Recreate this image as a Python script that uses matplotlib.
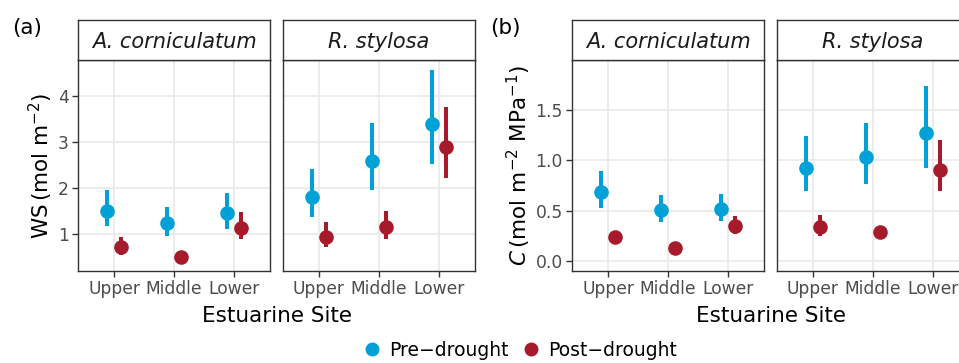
import matplotlib
matplotlib.use('Agg')
import matplotlib.pyplot as plt
from matplotlib.lines import Line2D

W, H = 959, 363

sites = ['Upper', 'Middle', 'Lower']
species = ['A. corniculatum', 'R. stylosa']
periods = ['Pre\u2212drought', 'Post\u2212drought']
colors = ['#00A1D6', '#A61A2B']

# WS (mol m-2): mean, lower and upper bounds per site
ws_acor_pre = [1.51, 1.24, 1.46]
ws_acor_pre_lo = [1.17, 0.96, 1.12]
ws_acor_pre_hi = [1.96, 1.60, 1.89]
ws_acor_post = [0.73, 0.51, 1.14]
ws_acor_post_lo = [0.55, 0.41, 0.89]
ws_acor_post_hi = [0.95, 0.62, 1.49]
ws_rsty_pre = [1.82, 2.59, 3.40]
ws_rsty_pre_lo = [1.38, 1.96, 2.53]
ws_rsty_pre_hi = [2.41, 3.43, 4.57]
ws_rsty_post = [0.95, 1.16, 2.90]
ws_rsty_post_lo = [0.72, 0.89, 2.22]
ws_rsty_post_hi = [1.27, 1.51, 3.77]

# C (mol m-2 MPa-1)
c_acor_pre = [0.69, 0.51, 0.52]
c_acor_pre_lo = [0.53, 0.39, 0.40]
c_acor_pre_hi = [0.90, 0.66, 0.67]
c_acor_post = [0.24, 0.135, 0.35]
c_acor_post_lo = [0.18, 0.10, 0.27]
c_acor_post_hi = [0.30, 0.18, 0.45]
c_rsty_pre = [0.93, 1.03, 1.27]
c_rsty_pre_lo = [0.695, 0.77, 0.93]
c_rsty_pre_hi = [1.245, 1.37, 1.74]
c_rsty_post = [0.34, 0.29, 0.91]
c_rsty_post_lo = [0.25, 0.23, 0.70]
c_rsty_post_hi = [0.46, 0.35, 1.20]

ws_ticks = [1, 2, 3, 4]
ws_lim = (0.20, 4.79)
c_ticks = [0.0, 0.5, 1.0, 1.5]
c_lim = (-0.095, 1.995)

plt.rcParams['font.family'] = ['DejaVu Sans']
plt.rcParams['mathtext.fontset'] = 'dejavusans'

fig = plt.figure(figsize=(W / 100, H / 100), dpi=100)


def rect(x0, x1, y0, y1):
    return [x0 / W, 1 - y1 / H, (x1 - x0) / W, (y1 - y0) / H]


def draw_facet(x0, name, series, ylim, yticks, ylabels):
    ax = fig.add_axes(rect(x0, x0 + 192, 60, 271))
    pos = [1, 2, 3]
    for k, (mean, lo, hi) in enumerate(series):
        off = -0.115 if k == 0 else 0.115
        xs = [p + off for p in pos]
        ax.vlines(xs, lo, hi, color=colors[k], lw=2.9, zorder=3)
        ax.plot(xs, mean, 'o', ms=10.5, color=colors[k], mec='none', zorder=4)
    ax.set_xlim(0.4, 3.6)
    ax.set_ylim(*ylim)
    ax.set_xticks(pos)
    ax.set_xticklabels(sites)
    ax.set_yticks(yticks)
    ax.grid(True, color='#EBEBEB', lw=1.3)
    ax.set_axisbelow(True)
    ax.tick_params(length=4, width=1, color='#333333', labelcolor='#4D4D4D',
                   labelsize=12.3, pad=2.5)
    if ylabels is None:
        ax.tick_params(axis='y', length=0, labelleft=False)
    else:
        ax.set_yticklabels(ylabels)
    for s in ax.spines.values():
        s.set_color('#333333')
        s.set_linewidth(1.0)

    strip = fig.add_axes(rect(x0, x0 + 192, 20, 60))
    strip.set_xticks([])
    strip.set_yticks([])
    strip.set_facecolor('white')
    for s in strip.spines.values():
        s.set_color('#333333')
        s.set_linewidth(1.0)
    strip.text(0.5, 0.45, name, style='italic', fontsize=15, color='#1A1A1A',
               ha='center', va='center', transform=strip.transAxes)
    return ax


# (a) WS
ax = draw_facet(78, species[0],
                [(ws_acor_pre, ws_acor_pre_lo, ws_acor_pre_hi),
                 (ws_acor_post, ws_acor_post_lo, ws_acor_post_hi)],
                ws_lim, ws_ticks, [str(t) for t in ws_ticks])
ax.set_ylabel(r'WS$\,\left(\mathrm{mol\ m^{-2}}\right)$', fontsize=15.5, labelpad=2)
draw_facet(283, species[1],
           [(ws_rsty_pre, ws_rsty_pre_lo, ws_rsty_pre_hi),
            (ws_rsty_post, ws_rsty_post_lo, ws_rsty_post_hi)],
           ws_lim, ws_ticks, None)

# (b) C
ax = draw_facet(572, species[0],
                [(c_acor_pre, c_acor_pre_lo, c_acor_pre_hi),
                 (c_acor_post, c_acor_post_lo, c_acor_post_hi)],
                c_lim, c_ticks, ['%.1f' % t for t in c_ticks])
ax.set_ylabel(r'$C\,\left(\mathrm{mol\ m^{-2}\ MPa^{-1}}\right)$', fontsize=15.5, labelpad=2)
draw_facet(777, species[1],
           [(c_rsty_pre, c_rsty_pre_lo, c_rsty_pre_hi),
            (c_rsty_post, c_rsty_post_lo, c_rsty_post_hi)],
           c_lim, c_ticks, None)

fig.text(276.5 / W, 1 - 316 / H, 'Estuarine Site', fontsize=15.5, ha='center', va='center')
fig.text(770.5 / W, 1 - 316 / H, 'Estuarine Site', fontsize=15.5, ha='center', va='center')
fig.text(12 / W, 1 - 28 / H, '(a)', fontsize=15.5, ha='left', va='center')
fig.text(490 / W, 1 - 28 / H, '(b)', fontsize=15.5, ha='left', va='center')

handles = [Line2D([], [], ls='none', marker='o', ms=10, color=c, mec='none') for c in colors]
fig.legend(handles, periods, loc='center', bbox_to_anchor=(519 / W, 1 - 350 / H),
           ncol=2, frameon=False, fontsize=13.5, handletextpad=0.3,
           columnspacing=0.6, borderpad=0, handlelength=1.2)

fig.savefig('out.png', dpi=100)
